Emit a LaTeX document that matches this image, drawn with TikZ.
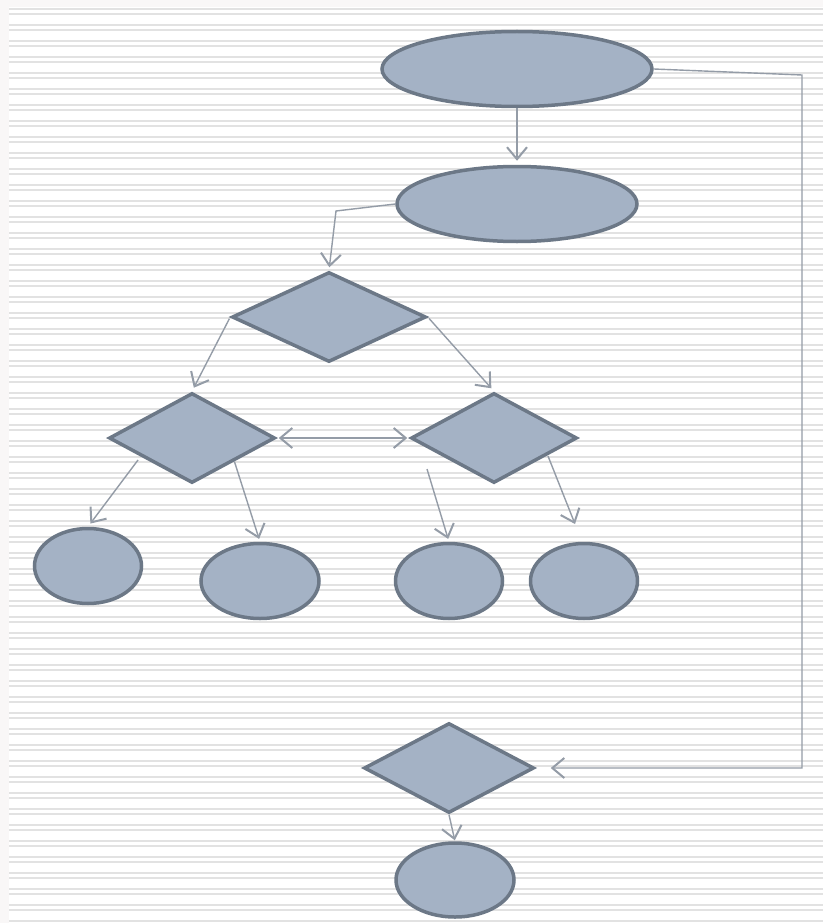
\documentclass[tikz,border=0pt]{standalone}
\usetikzlibrary{shapes.geometric,arrows.meta}
\definecolor{shapefill}{RGB}{164,178,197}
\definecolor{shapeline}{RGB}{108,120,135}
\definecolor{connline}{RGB}{148,156,167}
\definecolor{stripe}{RGB}{226,226,226}
\definecolor{margincol}{RGB}{249,247,247}
\tikzset{
  oval/.style={ellipse,draw=shapeline,fill=shapefill,line width=3.5pt,inner sep=0pt},
  decision/.style={diamond,draw=shapeline,fill=shapefill,line width=3.5pt,inner sep=0pt},
  conn/.style={draw=connline,line width=1.4pt,-{Straight Barb[length=12pt,width=20pt,line width=2pt]}},
  dconn/.style={draw=connline,line width=1.4pt,{Straight Barb[length=12pt,width=20pt,line width=2pt]}-{Straight Barb[length=12pt,width=20pt,line width=2pt]}}
}
\begin{document}
\begin{tikzpicture}[x=1pt,y=-1pt]
\useasboundingbox (0,0) rectangle (823,923);
% background
\fill[margincol] (0,0) rectangle (823,923);
\fill[white] (9,7) rectangle (823,923);
\foreach \k in {0,...,57}{
  \fill[stripe] (9,{8+16*\k}) rectangle (823,{10+16*\k});
  \fill[stripe] (9,{13+16*\k}) rectangle (823,{15+16*\k});
}
% nodes
\node[oval,minimum width=270pt,minimum height=75pt] (e1) at (517,69) {};
\node[oval,minimum width=240pt,minimum height=75pt] (e2) at (517,204) {};
\node[decision,minimum width=194pt,minimum height=90pt] (d1) at (329,317) {};
\node[decision,minimum width=166pt,minimum height=90pt] (dl) at (192,438) {};
\node[decision,minimum width=166pt,minimum height=90pt] (dr) at (494,438) {};
\node[oval,minimum width=107pt,minimum height=75pt] (c1) at (88,566) {};
\node[oval,minimum width=118pt,minimum height=75pt] (c2) at (260,581) {};
\node[oval,minimum width=107pt,minimum height=75pt] (c3) at (449,581) {};
\node[oval,minimum width=107pt,minimum height=75pt] (c4) at (584,581) {};
\node[decision,minimum width=170pt,minimum height=90pt] (db) at (449,768) {};
\node[oval,minimum width=118pt,minimum height=74pt] (eb) at (455,880) {};
% helper coordinates
\coordinate (b1) at (336,211);
\coordinate (s1) at (138,460);
\coordinate (s3) at (427,469);
\coordinate (s4) at (548,456);
\coordinate (t4) at (575,524);
\coordinate (r1) at (802,75);
\coordinate (r2) at (802,768);
% connectors
\draw[conn,shorten >=4pt] (e1.south) -- (e2.north);
\draw[conn,shorten >=3pt] (e2.west) -- (b1) -- (d1.north);
\draw[conn,shorten >=4pt,shorten <=2pt] (d1.west) -- (dl.north);
\draw[conn,shorten >=4pt,shorten <=2pt] (d1.east) -- (dr.north);
\draw[dconn,shorten >=2pt,shorten <=2pt] (dl.east) -- (dr.west);
\draw[conn,shorten >=4pt] (s1) -- (c1.north);
\draw[conn,shorten >=3pt] (dl.south east) -- (c2.north);
\draw[conn,shorten >=3pt] (s3) -- (c3.north);
\draw[conn] (s4) -- (t4);
\draw[conn,shorten >=15pt] (e1.east) -- (r1) -- (r2) -- (db.east);
\draw[conn,shorten >=1pt] (db.south) -- (eb.north);
\end{tikzpicture}
\end{document}
